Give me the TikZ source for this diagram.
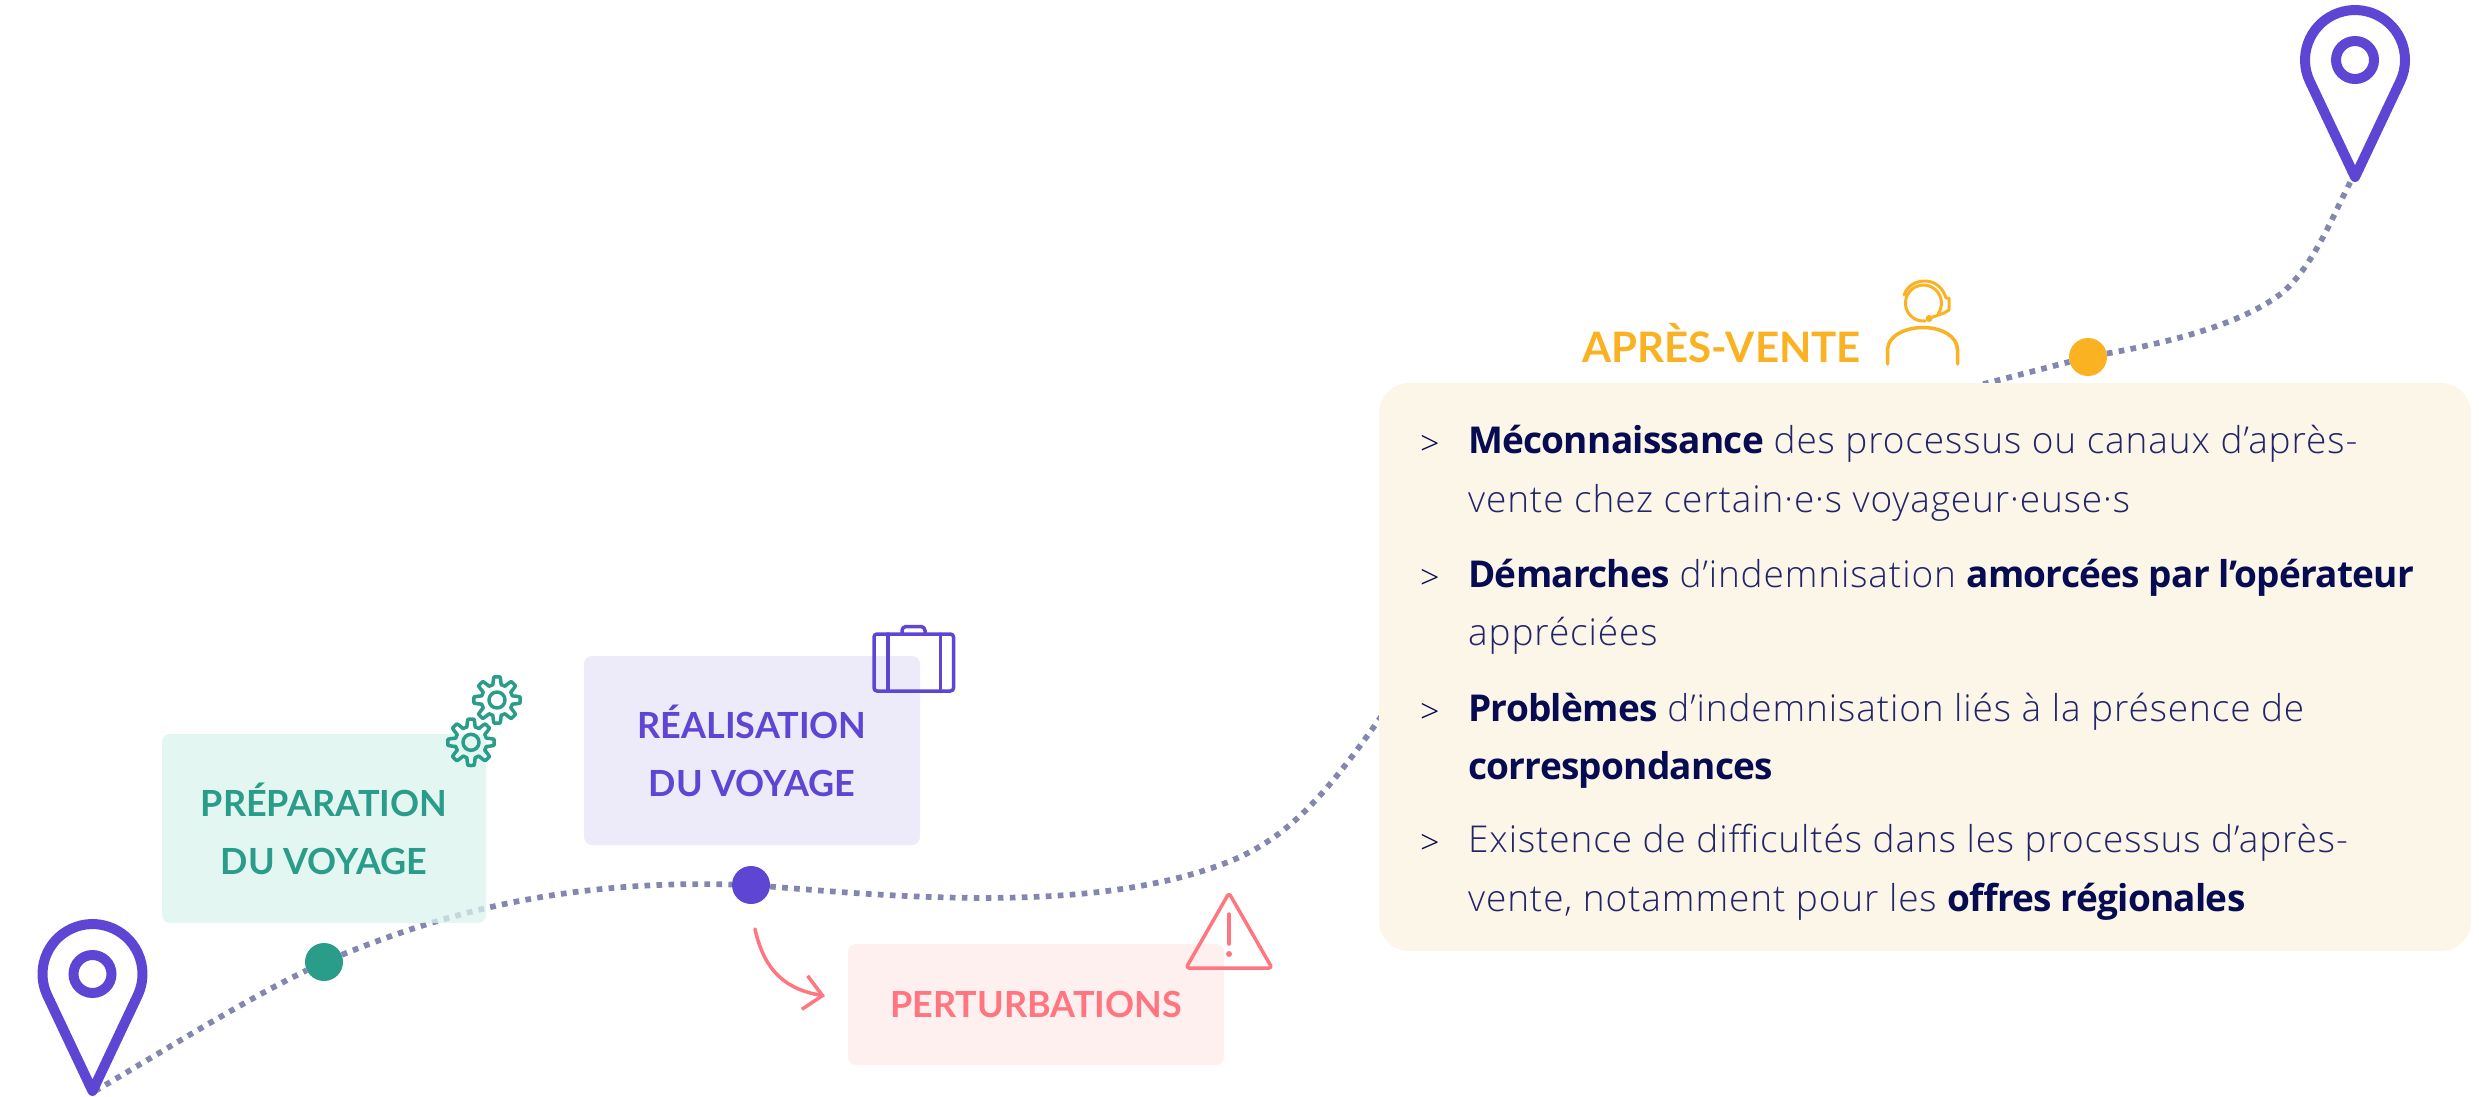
\documentclass[tikz,border=0pt]{standalone}
\usepackage{fontspec}
\usetikzlibrary{arrows.meta}
\setmainfont{Lato}
\newfontfamily\bodyfont[LetterSpace=2.4, BoldFont={Open Sans Bold}, BoldFeatures={LetterSpace=-2}]{Open Sans Light}
\definecolor{routecol}{HTML}{8386AE}
\definecolor{greencol}{HTML}{2A9D8A}
\definecolor{purplecol}{HTML}{5F45D3}
\definecolor{pinkcol}{HTML}{FF7580}
\definecolor{yellowcol}{HTML}{FAB222}
\definecolor{greenbg}{HTML}{DAF3EC}
\definecolor{purplebg}{HTML}{EDEBF9}
\definecolor{pinkbg}{HTML}{FFF0F0}
\definecolor{creambg}{HTML}{FCF6E8}
\definecolor{navycol}{HTML}{070B52}
\definecolor{lightcol}{HTML}{23246A}
\tikzstyle{stagebox} = [rectangle, rounded corners=8, text centered, align=center, inner sep=0, font=\fontsize{36}{58}\selectfont\bfseries]
\tikzstyle{stopdot} = [circle, minimum size=38, inner sep=0]
\tikzstyle{route} = [line width=5.7, routecol, dash pattern=on 5.7 off 6.3]
\tikzstyle{icon} = [line width=3.5, line join=round, line cap=round]
\tikzstyle{bodyline} = [anchor=base west, inner sep=0, lightcol, font=\fontsize{37}{58}\bodyfont]
\tikzstyle{bullet} = [anchor=base west, inner sep=0, navycol, font=\fontsize{34}{58}\bodyfont]
\newcommand{\keyword}[1]{\textcolor{navycol}{\textbf{#1}}}

\begin{document}
\begin{tikzpicture}[x=1pt, y=-1pt]
      \useasboundingbox (0,0) rectangle (2479,1096);

      \node (dotprep) [stopdot, fill=greencol]  at (324,962)  {};
      \node (dotreal) [stopdot, fill=purplecol] at (751,885)  {};
      \node (dotapv)  [stopdot, fill=yellowcol] at (2088,357) {};

      \coordinate (tipstart) at (95,1091);
      \coordinate (tipend)   at (2352,179);
      \coordinate (bendlow)  at (1233,860);
      \coordinate (boxin)    at (1400,690);
      \coordinate (boxout)   at (1976,386);
      \coordinate (bendtop)  at (2282,293);

      \draw [route] (tipstart) .. controls (165,1050) and (245,1000) .. (dotprep);
      \draw [route] (dotprep)  .. controls (440,915) and (560,880) .. (dotreal);
      \draw [route] (dotreal)  .. controls (900,897) and (1100,915) .. (bendlow)
                               .. controls (1300,832) and (1340,775) .. (boxin)
                               -- (boxout) -- (dotapv);
      \draw [route] (dotapv)   .. controls (2170,342) and (2240,325) .. (bendtop)
                               .. controls (2315,265) and (2335,210) .. (tipend);

      \node (prep) [stagebox, fill=greenbg, fill opacity=0.75, text opacity=1, minimum width=324, minimum height=189, text=greencol] at (324,828.5) {PRÉPARATION\\DU VOYAGE};
      \node (real) [stagebox, fill=purplebg, minimum width=336, minimum height=189, text=purplecol] at (752,750.5) {RÉALISATION\\DU VOYAGE};
      \node (pert) [stagebox, fill=pinkbg, minimum width=376, minimum height=121, text=pinkcol] at (1036,1004.5) {PERTURBATIONS};

      \coordinate (pertout) at (755,929);
      \coordinate (pertin)  at (825,996);
      \draw [icon, pinkcol, -{Straight Barb[length=18, width=34, line width=3.5]}] (pertout) .. controls (765,975) and (790,990) .. (pertin);

      \node (after) [anchor=base west, inner sep=0, text=yellowcol, font=\fontsize{42}{58}\selectfont\bfseries] at (1582,362) {APRÈS-VENTE};

      \node (panel) [rectangle, rounded corners=30, fill=creambg, minimum width=1092, minimum height=568] at (1925,667) {};

      \node (mark1) [bullet] at (1420,455) {>};
      \node (mark2) [bullet] at (1420,589) {>};
      \node (mark3) [bullet] at (1420,723) {>};
      \node (mark4) [bullet] at (1420,854) {>};

      \node (line1) [bodyline] at (1468,453) {\keyword{Méconnaissance} des processus ou canaux d’après-};
      \node (line2) [bodyline] at (1468,512) {vente chez certain·e·s voyageur·euse·s};
      \node (line3) [bodyline] at (1468,587) {\keyword{Démarches} d’indemnisation \keyword{amorcées par l’opérateur}};
      \node (line4) [bodyline] at (1468,645) {appréciées};
      \node (line5) [bodyline] at (1468,721) {\keyword{Problèmes} d’indemnisation liés à la présence de};
      \node (line6) [bodyline] at (1468,779) {\keyword{correspondances}};
      \node (line7) [bodyline] at (1468,852) {Existence de difficultés dans les processus d’après-};
      \node (line8) [bodyline] at (1468,911) {vente, notamment pour les \keyword{offres régionales}};

      \foreach \cx/\cy in {92.5/974, 2355/60} {
        \draw [purplecol, line width=10, line join=round] (\cx,\cy+117) -- ++(-45.2,-95.6) arc[start angle=154.7, end angle=385.3, radius=50] -- cycle;
        \draw [purplecol, line width=10] (\cx,\cy) circle[radius=19];
      }

      \foreach \cx/\cy in {497/700, 471/742.3} {
        \draw [icon, greencol] plot[domain=0:360, samples=145] ({\cx+(19.5+3.7*max(-1,min(1,2*cos(8*\x))))*cos(\x)}, {\cy+(19.5+3.7*max(-1,min(1,2*cos(8*\x))))*sin(\x)}) -- cycle;
        \draw [icon, greencol] (\cx,\cy) circle[radius=8];
      }

      \draw [icon, purplecol, rounded corners=3] (874,634) rectangle (953.5,691);
      \draw [icon, purplecol] (888,634) -- (888,691);
      \draw [icon, purplecol] (940.5,634) -- (940.5,691);
      \draw [icon, purplecol, rounded corners=4] (902,634) -- (902,626.5) -- (925,626.5) -- (925,634);

      \draw [icon, pinkcol, rounded corners=3] (1229,893) -- (1272,968) -- (1186,968) -- cycle;
      \draw [icon, pinkcol] (1229,914) -- (1229,944);
      \fill [pinkcol] (1229,954) circle[radius=3];

      \draw [icon, yellowcol] (1887.5,364) -- (1887.5,350) .. controls (1887.5,336) and (1905,327.5) .. (1923,327.5) .. controls (1941,327.5) and (1957.5,336) .. (1957.5,350) -- (1957.5,364);
      \draw [icon, yellowcol, line width=3] (1925,321) arc[start angle=85, end angle=395, radius=18];
      \draw [icon, yellowcol, line width=3] (1904,295) .. controls (1908,284) and (1918,281) .. (1925,281) .. controls (1935,281) and (1943,288) .. (1946,298) -- (1949,298) -- (1949,310) -- (1944,313) -- (1930,318);
      \fill [yellowcol] (1929,318.5) circle[radius=3.5];
\end{tikzpicture}
\end{document}
